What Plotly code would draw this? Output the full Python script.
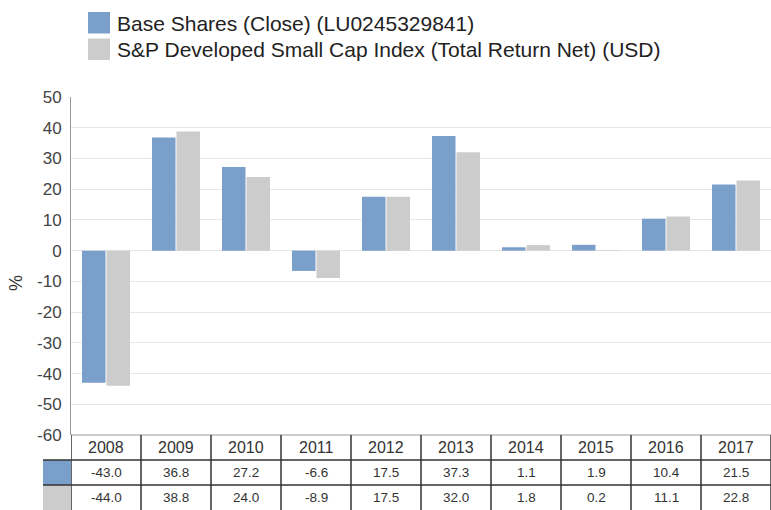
import plotly.graph_objects as go

years = ["2008", "2009", "2010", "2011", "2012", "2013", "2014", "2015", "2016", "2017"]
fund = [-43.0, 36.8, 27.2, -6.6, 17.5, 37.3, 1.1, 1.9, 10.4, 21.5]
index = [-44.0, 38.8, 24.0, -8.9, 17.5, 32.0, 1.8, 0.2, 11.1, 22.8]
series_names = ["Base Shares (Close) (LU0245329841)",
                "S&P Developed Small Cap Index (Total Return Net) (USD)"]
colors = ["#7A9FCB", "#CCCCCC"]
yticks = [50, 40, 30, 20, 10, 0, -10, -20, -30, -40, -50, -60]
yticklabels = [str(v) for v in yticks]
y_title = "%"

W, H = 771, 510
ML, MR, MT, MB = 71, 0, 97, 75
plot_h = H - MT - MB
plot_w = W - ML - MR
row_h = 25 / plot_h  # paper units per table row

fig = go.Figure()
xs = list(range(len(years)))
for vals, name, col in zip([fund, index], series_names, colors):
    fig.add_trace(go.Bar(x=xs, y=vals, name=name, marker_color=col,
                         marker_line_width=0, showlegend=False, hoverinfo="skip"))

shapes = []
annotations = []
line_dark = dict(color="#333333", width=1.5)
# table header top (axis) line
shapes.append(dict(type="line", xref="x", yref="paper", x0=-0.5, x1=len(years) - 0.5,
                   y0=0, y1=0, line=dict(color="#cccccc", width=2)))
# swatches in table
for k, col in enumerate(colors):
    shapes.append(dict(type="rect", xref="paper", yref="paper",
                       x0=-28 / plot_w, x1=0, y0=-(k + 1) * row_h, y1=-(k + 2) * row_h,
                       fillcolor=col, line=dict(width=0)))
# horizontal lines
for k in [1, 2]:
    shapes.append(dict(type="line", xref="paper", yref="paper",
                       x0=-28 / plot_w, x1=1, y0=-k * row_h, y1=-k * row_h, line=line_dark))
# vertical lines
for i in range(len(years) + 1):
    shapes.append(dict(type="line", xref="x", yref="paper", x0=i - 0.5, x1=i - 0.5,
                       y0=0, y1=-3 * row_h, line=line_dark))
# header text and values
for i, yr in enumerate(years):
    annotations.append(dict(x=i, y=-0.5 * row_h, xref="x", yref="paper", text=yr,
                            showarrow=False, xanchor="center", yanchor="middle",
                            font=dict(size=16, color="#333333")))
    for k, vals in enumerate([fund, index]):
        annotations.append(dict(x=i, y=-(k + 1.5) * row_h, xref="x", yref="paper",
                                text=f"{vals[i]:.1f}", showarrow=False,
                                xanchor="center", yanchor="middle",
                                font=dict(size=13.5, color="#333333")))

# manual legend
for k, (name, col) in enumerate(zip(series_names, colors)):
    y_top = 12 + k * 26.5
    shapes.append(dict(type="rect", xref="paper", yref="paper",
                       x0=(88 - ML) / plot_w, x1=(110 - ML) / plot_w,
                       y0=1 + (MT - y_top) / plot_h, y1=1 + (MT - y_top - 21.5) / plot_h,
                       fillcolor=col, line=dict(width=0)))
    annotations.append(dict(x=(115 - ML) / plot_w, y=1 + (MT - y_top - 11) / plot_h,
                            xref="paper", yref="paper", text=name, showarrow=False,
                            xanchor="left", yanchor="middle",
                            font=dict(size=21, color="#222222")))

# y-axis title
annotations.append(dict(x=(16 - ML) / plot_w, y=1 - (283 - MT) / plot_h, xref="paper", yref="paper",
                        text=y_title, textangle=-90, showarrow=False,
                        xanchor="center", yanchor="middle",
                        font=dict(size=18, color="#333333")))

fig.update_layout(
    width=W, height=H,
    margin=dict(l=ML, r=MR, t=MT, b=MB, autoexpand=False),
    paper_bgcolor="white", plot_bgcolor="white",
    font=dict(family="Liberation Sans, Arial, sans-serif", color="#333333"),
    barmode="group", bargap=0.3, bargroupgap=0.04,
    shapes=shapes, annotations=annotations, hovermode=False,
    xaxis=dict(range=[-0.5, len(years) - 0.5], showticklabels=False, showgrid=False,
               zeroline=False, showline=False, fixedrange=True, automargin=False),
    yaxis=dict(range=[-60, 50], tickvals=yticks, ticktext=yticklabels,
               showgrid=True, gridcolor="#e6e6e6",
               gridwidth=1, zeroline=True, zerolinecolor="#e6e6e6", zerolinewidth=1,
               showline=True, linecolor="#999999", linewidth=1, automargin=False,
               fixedrange=True,
               tickfont=dict(size=17, color="#444444"), ticks="", ticklabelstandoff=5),
)

fig.write_html("out.html", config={"displayModeBar": False, "staticPlot": True},
               post_script="document.body.style.margin='0';document.body.style.overflow='hidden';")
